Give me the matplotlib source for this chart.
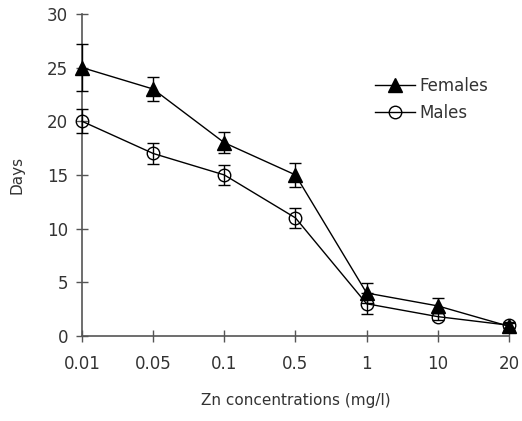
import numpy as np
import matplotlib.pyplot as plt

# Zn concentration categories (equally spaced on the x axis)
concentrations = ['0.01', '0.05', '0.1', '0.5', '1', '10', '20']

# Days
females = [25, 23, 18, 15, 4, 2.8, 0.9]
females_err = [2.2, 1.1, 1.0, 1.1, 0.9, 0.7, 0.3]
males = [20, 17, 15, 11, 3, 1.8, 1.0]
males_err = [1.1, 1.0, 0.9, 0.9, 1.0, 0.3, 0.3]


def main():
    fig = plt.figure(figsize=(5.22, 4.21), dpi=100)
    ax = fig.add_axes([0.157, 0.202, 0.818, 0.765])
    x = np.arange(len(concentrations))

    ax.errorbar(x, females, yerr=females_err, color='black', lw=1,
                marker='^', markersize=10, mfc='black', mec='black',
                capsize=4.5, elinewidth=1, capthick=1, label='Females',
                clip_on=False, zorder=3)
    ax.errorbar(x, males, yerr=males_err, color='black', lw=1,
                marker='o', markersize=9, mfc='none', mec='black',
                capsize=4.5, elinewidth=1, capthick=1, label='Males',
                clip_on=False, zorder=3)

    ax.set_xlim(0, 6)
    ax.set_ylim(0, 30)
    ax.set_xticks(x)
    ax.set_xticklabels(concentrations)
    ax.set_yticks(np.arange(0, 31, 5))

    for s in ['top', 'right']:
        ax.spines[s].set_visible(False)
    for s in ['left', 'bottom']:
        ax.spines[s].set_color('#555555')
        ax.spines[s].set_linewidth(1.2)

    ax.tick_params(axis='both', direction='inout', length=8, width=1,
                   color='#555555', labelsize=12, labelcolor='#333333')
    ax.tick_params(axis='x', pad=10)
    ax.tick_params(axis='y', pad=6)

    ax.set_xlabel('Zn concentrations (mg/l)', fontsize=11, color='#333333',
                  labelpad=14)
    ax.set_ylabel('Days', fontsize=11, color='#333333', labelpad=16)

    # legend handles without error bars
    h, l = ax.get_legend_handles_labels()
    h = [hh[0] for hh in h]
    leg = ax.legend(h, l, loc='upper left', bbox_to_anchor=(0.651, 0.852),
                    frameon=False, fontsize=12, handlelength=2.4,
                    handletextpad=0.25, labelspacing=0.55)
    for t in leg.get_texts():
        t.set_color('#333333')

    fig.savefig('out.png', dpi=100)


if __name__ == "__main__":
    main()
